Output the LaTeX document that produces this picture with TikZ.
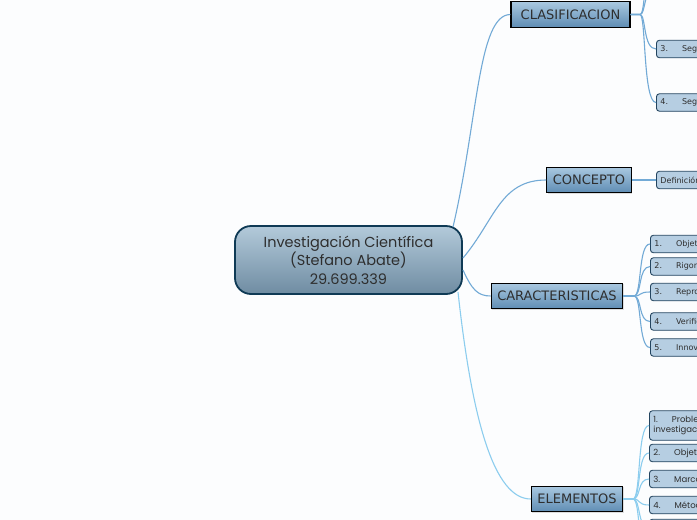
\documentclass[tikz,border=0pt]{standalone}
\usepackage{fontspec}
\setmainfont{DejaVu Sans}
\newfontfamily\rootfont{Poppins}
\usetikzlibrary{shadows}
\definecolor{bg}{HTML}{FCFDFE}
\definecolor{rootTop}{HTML}{B3CADA}
\definecolor{rootBot}{HTML}{6F8CA2}
\definecolor{rootLine}{HTML}{0F3A55}
\definecolor{secTop}{HTML}{A9C8E0}
\definecolor{secBot}{HTML}{5F8DB4}
\definecolor{leafFill}{HTML}{B6CEE2}
\definecolor{leafLine}{HTML}{23445F}
\definecolor{conA}{HTML}{72AAD6}
\definecolor{conB}{HTML}{8CCDEE}
\definecolor{txt}{HTML}{2E2E2E}
\tikzset{
  rootbox/.style={draw=rootLine, line width=1.8pt, rounded corners=16pt,
    top color=rootTop, bottom color=rootBot, minimum width=227pt, minimum height=68pt,
    align=center, text=txt, font=\rootfont\fontsize{14.5}{18.5}\selectfont},
  secbox/.style={draw=black, line width=1.2pt, top color=secTop, bottom color=secBot,
    minimum height=25.5pt, inner xsep=6pt, text=txt, font=\fontsize{13}{15}\selectfont,
    drop shadow={shadow xshift=1pt, shadow yshift=-1pt, opacity=0.25}},
  leaf/.style={draw=leafLine, line width=0.9pt, rounded corners=3pt, fill=leafFill,
    anchor=west, minimum height=17.5pt, text width=110pt, align=left, inner xsep=4pt,
    text=txt, font=\fontsize{8}{9.5}\selectfont},
  leafr/.style={leaf, font=\rootfont\fontsize{8.5}{10}\selectfont},
  conn/.style={draw=conA, line width=1.1pt},
  connb/.style={draw=conB, line width=1.1pt},
}
\begin{document}
\begin{tikzpicture}[x=1pt,y=-1pt]
\useasboundingbox (0,0) rectangle (697,520);
\fill[bg] (0,0) rectangle (697,520);
\clip (0,0) rectangle (697,520);

% root
\node[rootbox] (root) at (348.5,260) {Investigación Científica\\(Stefano Abate)\\29.699.339};

% sections
\node[secbox, minimum width=119pt] (clas) at (570.5,14.5) {CLASIFICACION};
\node[secbox, minimum width=84pt] (conc) at (589,180) {CONCEPTO};
\node[secbox] (cara) at (557,296) {CARACTERISTICAS};
\node[secbox] (elem) at (577,499) {ELEMENTOS};

% root connectors
\draw[conn] (453,227) .. controls (478,120) and (478,14.5) .. (clas.west);
\draw[conn] (463,258) .. controls (495,220) and (500,180) .. (conc.west);
\draw[conn] (463,270) .. controls (472,290) and (478,296) .. (cara.west);
\draw[connb] (458,292) .. controls (472,420) and (494,499) .. (elem.west);

% junction helpers
\coordinate (jc) at (643,0);
\coordinate (jk) at (638,0);
\coordinate (je) at (637,0);

% CLASIFICACION leaves
\coordinate (c1) at (656,-40);
\coordinate (c2) at (656,-12);
\node[leaf] (c3) at (656,49) {3.\hspace{14pt}Según};
\node[leaf] (c4) at (656,102.5) {4.\hspace{14pt}Según};
\foreach \t in {c1,c2}
  \draw[conn] (clas.east) -- (640,14.5) .. controls (646,14.5) and (\t -| jc) .. (\t);
\foreach \t in {c3,c4}
  \draw[conn] (clas.east) -- (640,14.5) .. controls (646,14.5) and (\t.west -| jc) .. (\t.west);

% CONCEPTO leaf
\node[leaf] (d1) at (656,180) {Definición};
\draw[conn] (conc.east) -- (d1.west);

% CARACTERISTICAS leaves
\node[leaf] (k1) at (650,244) {1.\hspace{14pt}Objetividad};
\node[leaf] (k2) at (650,266.5) {2.\hspace{14pt}Rigor};
\node[leaf] (k3) at (650,292) {3.\hspace{14pt}Reproducibilidad};
\node[leaf] (k4) at (650,321.5) {4.\hspace{14pt}Verificabilidad};
\node[leaf] (k5) at (650,347.5) {5.\hspace{14pt}Innovación};
\foreach \k in {k1,k2,k3,k4,k5}
  \draw[conn] (cara.east) -- (634,296) .. controls (642,296) and (\k.west -| jk) .. (\k.west);

% ELEMENTOS leaves
\node[leafr, minimum height=29.5pt] (e1) at (649,425.5) {1.\hspace{14pt}Problema de\\investigación};
\node[leafr] (e2) at (649,453) {2.\hspace{14pt}Objetivos};
\node[leafr] (e3) at (649,479) {3.\hspace{14pt}Marco teórico};
\node[leafr] (e4) at (649,505) {4.\hspace{14pt}Método};
\node[leafr] (e5) at (649,528) {5.\hspace{14pt}Resultados};
\coordinate (e6) at (649,560);
\foreach \k in {e1,e2,e3,e4,e5}
  \draw[connb] (elem.east) -- (633,499) .. controls (641,499) and (\k.west -| je) .. (\k.west);
\draw[connb] (elem.east) -- (633,499) .. controls (641,499) and (e6 -| je) .. (e6);
\end{tikzpicture}
\end{document}
